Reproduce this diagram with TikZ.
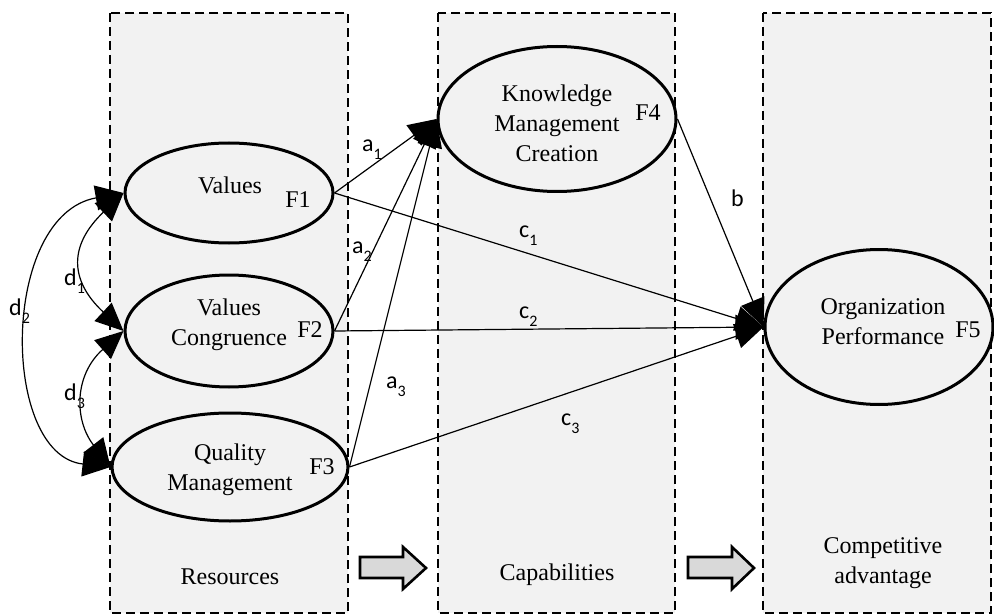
\documentclass[tikz,border=0pt]{standalone}
\usepackage{fontspec}
\setmainfont{Liberation Serif}
\newfontfamily\lblfont{Carlito}
\usetikzlibrary{arrows.meta,shapes.geometric}
\definecolor{panelgray}{HTML}{F2F2F2}
\definecolor{arrowgray}{HTML}{D9D9D9}
\newcommand\sublbl[2]{#1\raisebox{-8pt}{\fontsize{16}{16}\selectfont #2}}
\begin{document}
\begin{tikzpicture}[x=1pt,y=-1pt,
  panel/.style={draw, dash pattern=on 9pt off 5pt, line width=2.8pt, fill=panelgray},
  ell/.style={ellipse, draw, line width=3pt, fill=panelgray, inner sep=0pt},
  txt/.style={font=\fontsize{24}{30}\selectfont, align=center, inner sep=0pt},
  arr/.style={line width=1.2pt, -{Triangle[length=28pt,width=25pt]}},
  darr/.style={line width=1.2pt, {Triangle[length=28pt,width=25pt]}-{Triangle[length=28pt,width=25pt]}},
  lbl/.style={font=\lblfont\fontsize{24}{24}\selectfont, inner sep=0pt, anchor=base west},
  blockarrow/.style={draw, line width=2.6pt, fill=arrowgray, line join=miter}]
\useasboundingbox (0,0) rectangle (994,615);
% panels
\draw[panel] (110,13) rectangle (348,613);
\draw[panel] (438,13) rectangle (675,613);
\draw[panel] (763,13) rectangle (991,613);
% block arrows
\draw[blockarrow] (360,557) -- (403,557) -- (403,547) -- (426,568) -- (403,589) -- (403,578) -- (360,578) -- cycle;
\draw[blockarrow] (688,557) -- (732,557) -- (732,547) -- (754,568) -- (732,589) -- (732,578) -- (688,578) -- cycle;
% panel titles
\node[txt] (res) at (230,577) {Resources};
\node[txt] (cap) at (557,575) {Capabilities};
\node[txt] (comp) at (883,563) {Competitive\\advantage};
% ellipses
\node[ell, minimum width=208pt, minimum height=100pt] (V) at (229,193) {};
\node[ell, minimum width=208pt, minimum height=112pt] (VC) at (229,331) {};
\node[ell, minimum width=236pt, minimum height=108pt] (Q) at (230,467) {};
\node[ell, minimum width=238pt, minimum height=145pt] (K) at (557,119) {};
\node[ell, minimum width=228pt, minimum height=155pt] (O) at (879,327) {};
% ellipse texts
\node[txt] (tV) at (230,185) {Values};
\node[txt] (tF1) at (298,200) {F1};
\node[txt] (tVC) at (229,325) {Values\\Congruence};
\node[txt] (tF2) at (310,330) {F2};
\node[txt] (tQ) at (230,470) {Quality\\Management};
\node[txt] (tF3) at (322,467) {F3};
\node[txt] (tK) at (557,123) {Knowledge\\Management\\Creation};
\node[txt] (tF4) at (648,113) {F4};
\node[txt] (tO) at (883,322) {Organization\\Performance};
\node[txt] (tF5) at (968,330) {F5};
% paths
\draw[arr] (V.east) -- (K.west);
\draw[arr] (VC.east) -- (K.west);
\draw[arr] (Q.east) -- (K.west);
\draw[arr] (V.east) -- (O.west);
\draw[arr] (VC.east) -- (O.west);
\draw[arr] (Q.east) -- (O.west);
\draw[arr] (K.east) -- (O.west);
% correlations
\draw[darr] (V.west) .. controls (69,245) and (69,280) .. (VC.west);
\draw[darr] (V.west) .. controls (0,215) and (0,455) .. (Q.west);
\draw[darr] (VC.west) .. controls (74,375) and (74,420) .. (Q.west);
% labels
\node[lbl] (la1) at (362,152) {\sublbl{a}{1}};
\node[lbl] (la2) at (352,253) {\sublbl{a}{2}};
\node[lbl] (la3) at (386,388) {\sublbl{a}{3}};
\node[lbl] (lc1) at (519,237) {\sublbl{c}{1}};
\node[lbl] (lc2) at (519,318) {\sublbl{c}{2}};
\node[lbl] (lc3) at (561,425) {\sublbl{c}{3}};
\node[lbl] (lb) at (731,207) {b};
\node[lbl] (ld1) at (64,285) {\sublbl{d}{1}};
\node[lbl] (ld2) at (9,315) {\sublbl{d}{2}};
\node[lbl] (ld3) at (64,400) {\sublbl{d}{3}};
\end{tikzpicture}
\end{document}
